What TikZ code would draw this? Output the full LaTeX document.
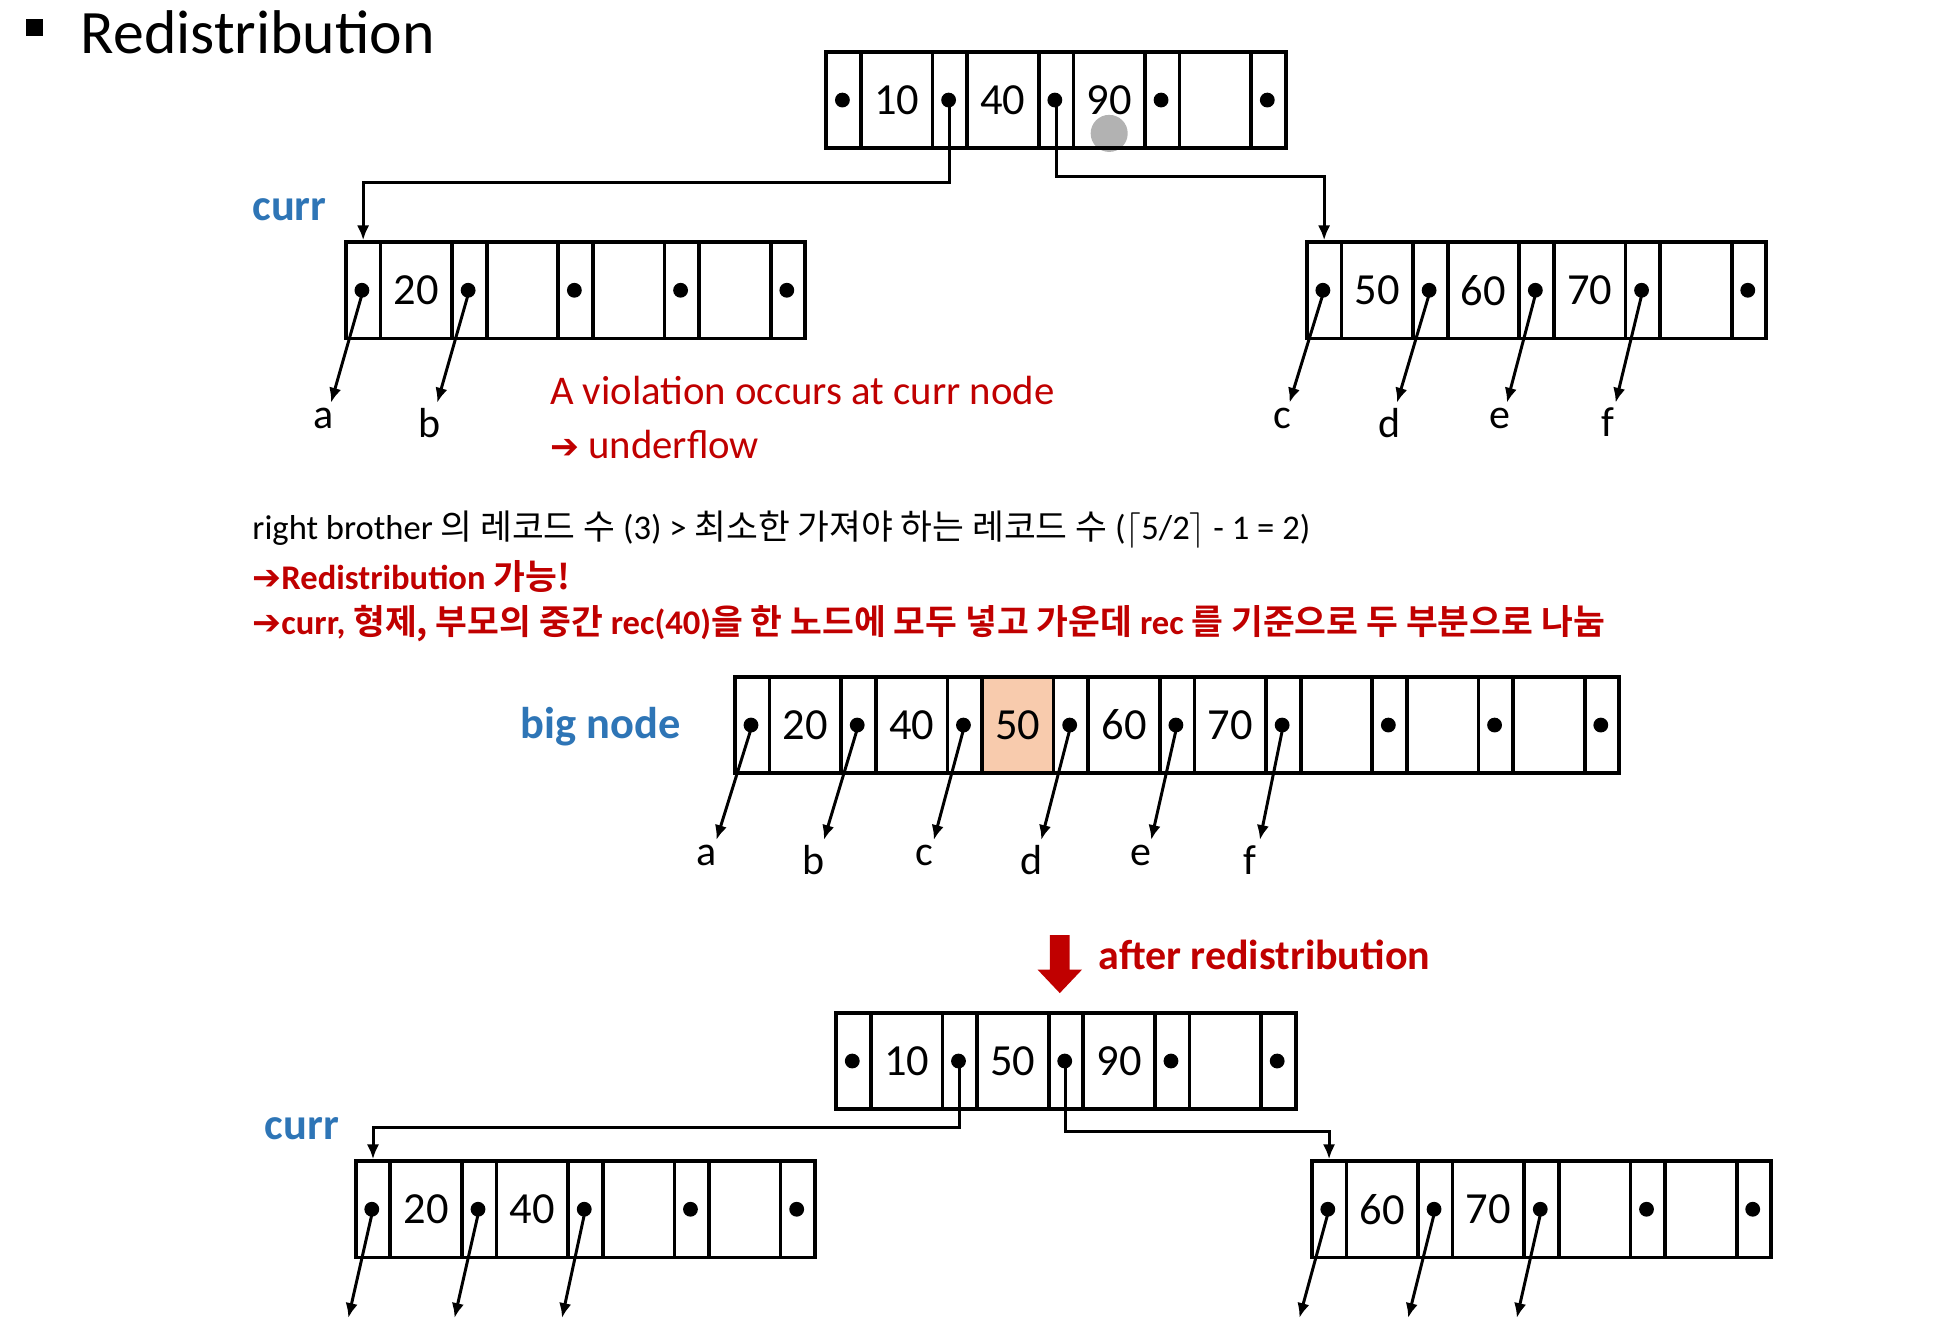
\documentclass[tikz,border=0pt]{standalone}
\usepackage{fontspec}
\setmainfont{Carlito}
\newfontfamily\kr{Noto Sans CJK KR}[BoldFont={Noto Sans CJK KR Bold}]
\newfontfamily\djv{DejaVu Sans}
\definecolor{myblue}{HTML}{2E75B6}
\definecolor{myred}{HTML}{C00000}
\definecolor{myorange}{HTML}{F8CBAD}
\tikzset{
 pcell/.style={draw,line width=1.5pt,minimum width=14pt,minimum height=39pt,inner sep=0pt,
   path picture={\fill ([xshift=-0.5pt]path picture bounding box.center) circle (3pt);}},
 kcell/.style={draw,line width=1.5pt,minimum width=29pt,minimum height=39pt,inner sep=0pt,font=\fontsize{18}{18}\selectfont},
 arr/.style={line width=1.2pt,-{Latex[length=6pt,width=5pt]}},
 lab/.style={font=\fontsize{17}{17}\selectfont},
}
\usetikzlibrary{arrows.meta}
% name, x, ytop, keys, nkeys
\newcommand\bnode[5]{%
 \foreach \k [count=\i from 0] in {#4} {
  \node[pcell] (#1-p\i) at ({#2+\i*86+14},{#3+39}) {};
  \node[kcell] (#1-k\i) at ({#2+\i*86+57},{#3+39}) {\k};
 }
 \node[pcell] (#1-p#5) at ({#2+#5*86+14},{#3+39}) {};
}
\begin{document}
\begin{tikzpicture}[x=0.5pt,y=-0.5pt]
\useasboundingbox (0,0) rectangle (1569,1070);
% title
\fill (21,15) rectangle (35,29);
\node[anchor=west,font=\fontsize{25}{25}\selectfont,inner sep=0] (title) at (65,26) {Redistribution};
% top
\node[circle,fill=black!30,minimum size=15pt,inner sep=0] (gdot) at (898,108) {};
\bnode{top}{669}{42}{10,40,90,{}}{4}
\bnode{cur}{280}{196}{20,{},{},{}}{4}
\bnode{rt}{1058}{196}{50,60,70,{}}{4}
\draw[arr] (top-p1.center) -- (top-p1.center |- 0,148) -| (cur-p0.north);
\draw[arr] (top-p2.center) -- (top-p2.center |- 0,143) -| (rt-p0.north);
\node[anchor=west,text=myblue,font=\fontsize{18}{18}\selectfont\bfseries,inner sep=0] (curr1) at (204,170) {curr};
% leaf children
\foreach \n/\p/\x/\l in {cur/0/268/a,cur/1/354/b,rt/0/1044/c,rt/1/1131/d,rt/2/1220/e,rt/3/1308/f}{
  \coordinate (\n\p e) at (\x,326);
  \draw[arr] (\n-p\p.center) -- (\n\p e);
  \node[lab,anchor=north,inner sep=0] (\n\p l) at ([xshift=-3pt,yshift=-2pt]\n\p e) {\l};
}
\node[anchor=west,text=myred,font=\fontsize{16.5}{16.5}\selectfont,inner sep=0] (viol) at (445,316) {A violation occurs at curr node};
\node[anchor=west,text=myred,font=\fontsize{16.5}{16.5}\selectfont,inner sep=0] (uf) at (445,360) {{\djv\fontsize{14}{14}\selectfont ➔} underflow};
% explanation
\node[anchor=west,font=\fontsize{14}{14}\selectfont,inner sep=0] (ex1) at (204,429) {right brother {\kr 의 레코드 수} (3) > {\kr 최소한 가져야 하는 레코드 수} ($\lceil$5/2$\rceil$ - 1 = 2)};
\node[anchor=west,text=myred,font=\fontsize{14}{14}\selectfont\bfseries,inner sep=0] (ex2) at (204,467) {{\djv ➔}Redistribution {\kr\bfseries 가능!}};
\node[anchor=west,text=myred,font=\fontsize{14}{14}\selectfont\bfseries,inner sep=0] (ex3) at (204,505) {{\djv ➔}curr, {\kr\bfseries 형제, 부모의 중간} rec(40){\kr\bfseries 을 한 노드에 모두 넣고 가운데} rec {\kr\bfseries 를 기준으로 두 부분으로 나눔}};
% big node
\fill[myorange] (796,549) rectangle (853,626);
\bnode{big}{595}{548}{20,40,50,60,70,{},{},{}}{8}
\node[anchor=west,text=myblue,font=\fontsize{18}{18}\selectfont\bfseries,inner sep=0] (bigl) at (421,588) {big node};
\foreach \p/\x/\l in {0/580/a,1/667/b,2/756/c,3/843/d,4/932/e,5/1020/f}{
  \coordinate (b\p e) at (\x,680);
  \draw[arr] (big-p\p.center) -- (b\p e);
  \node[lab,anchor=north,inner sep=0] (b\p l) at ([xshift=-4pt,yshift=-2pt]b\p e) {\l};
}
% arrow
\fill[myred] (850,757) -- (866,757) -- (866,785) -- (876,785) -- (858,804) -- (840,785) -- (850,785) -- cycle;
\node[anchor=west,text=myred,font=\fontsize{17}{17}\selectfont\bfseries,inner sep=0] (after) at (889,773) {after redistribution};
% bottom
\bnode{btop}{677}{820}{10,50,90,{}}{4}
\bnode{bl}{288}{940}{20,40,{},{}}{4}
\bnode{br}{1062}{940}{60,70,{},{}}{4}
\draw[arr] (btop-p1.center) -- (btop-p1.center |- 0,913) -| (bl-p0.north);
\draw[arr] (btop-p2.center) -- (btop-p2.center |- 0,916) -| (br-p0.north);
\node[anchor=west,text=myblue,font=\fontsize{18}{18}\selectfont\bfseries,inner sep=0] (curr2) at (214,914) {curr};
\foreach \n/\p/\x in {bl/0/282,bl/1/368,bl/2/455,br/0/1052,br/1/1140,br/2/1228}{
  \coordinate (\n\p e) at (\x,1067);
  \draw[arr] (\n-p\p.center) -- (\n\p e);
}
\end{tikzpicture}
\end{document}
